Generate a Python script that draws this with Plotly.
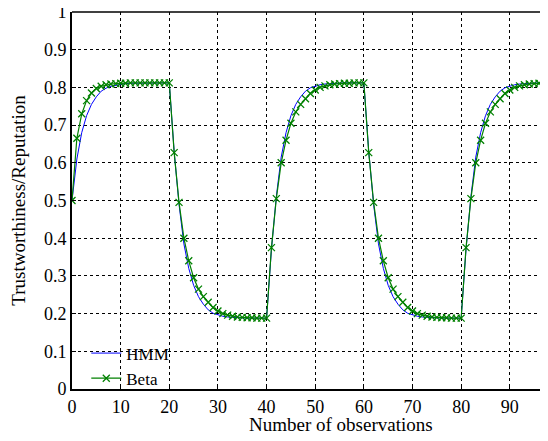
import plotly.graph_objects as go

# observation index
obs = list(range(0, 99))

# Beta reputation values
beta_start = [0.5, 0.665, 0.73, 0.765, 0.785, 0.797, 0.803, 0.807, 0.809, 0.810,
              0.811, 0.811, 0.812, 0.812, 0.812, 0.812, 0.812, 0.812, 0.812, 0.812, 0.812]
beta_down = [0.627, 0.495, 0.40, 0.34, 0.295, 0.265, 0.245, 0.23, 0.216, 0.207,
             0.200, 0.196, 0.193, 0.191, 0.190, 0.189, 0.189, 0.188, 0.188, 0.188]
beta_up = [0.375, 0.505, 0.60, 0.66, 0.705, 0.735, 0.755, 0.77, 0.784, 0.793,
           0.800, 0.804, 0.807, 0.809, 0.810, 0.811, 0.811, 0.812, 0.812, 0.812]

# HMM trust values
hmm_start = [0.5, 0.61, 0.68, 0.725, 0.755, 0.775, 0.79, 0.798, 0.803, 0.806,
             0.808, 0.810, 0.811, 0.811, 0.812, 0.812, 0.812, 0.812, 0.812, 0.812, 0.812]
hmm_down = [0.63, 0.49, 0.385, 0.32, 0.275, 0.245, 0.225, 0.21, 0.201, 0.196,
            0.193, 0.191, 0.190, 0.189, 0.188, 0.188, 0.188, 0.188, 0.188, 0.188]
hmm_up = [0.37, 0.51, 0.615, 0.68, 0.725, 0.755, 0.775, 0.79, 0.799, 0.804,
          0.807, 0.809, 0.810, 0.811, 0.812, 0.812, 0.812, 0.812, 0.812, 0.812]

beta = beta_start + beta_down + beta_up + beta_down + beta_up[:18]
hmm = hmm_start + hmm_down + hmm_up + hmm_down + hmm_up[:18]

x_ticks = [0, 10, 20, 30, 40, 50, 60, 70, 80, 90]
y_ticks = [0, 0.1, 0.2, 0.3, 0.4, 0.5, 0.6, 0.7, 0.8, 0.9, 1]
y_labels = ["0", "0.1", "0.2", "0.3", "0.4", "0.5", "0.6", "0.7", "0.8", "0.9", "1"]

SERIF = "Liberation Serif"

fig = go.Figure()
fig.add_trace(go.Scatter(
    x=obs, y=hmm, mode='lines', name='HMM',
    line=dict(color='#0000FF', width=1),
))
fig.add_trace(go.Scatter(
    x=obs, y=beta, mode='lines+markers', name='Beta',
    line=dict(color='#008000', width=1.2),
    marker=dict(symbol='x-thin', size=7, line=dict(color='#008000', width=1.3)),
))

fig.update_layout(
    width=548, height=441,
    paper_bgcolor='white', plot_bgcolor='white',
    margin=dict(l=64, r=8, t=4, b=60),
    font=dict(family=SERIF, size=18, color='black'),
    showlegend=True,
    legend=dict(
        x=0.03, y=-0.02, xanchor='left', yanchor='bottom',
        bgcolor='rgba(255,255,255,0)', borderwidth=0,
        font=dict(family=SERIF, size=17, color='black'),
        tracegroupgap=0, itemwidth=30,
    ),
)
fig.update_xaxes(
    range=[0, 97.85], tickvals=x_ticks,
    tickfont=dict(family=SERIF, size=18, color='black'),
    showgrid=True, gridcolor='black', griddash='dot', gridwidth=1,
    zeroline=False, showline=True, linecolor='black', linewidth=2,
    ticks='inside', ticklen=4, tickcolor='black', automargin=False,
)
fig.update_yaxes(
    range=[0, 1], tickvals=y_ticks, ticktext=y_labels,
    tickfont=dict(family=SERIF, size=18, color='black'),
    showgrid=True, gridcolor='black', griddash='dot', gridwidth=1,
    zeroline=False, showline=True, linecolor='black', linewidth=2,
    ticks='inside', ticklen=4, tickcolor='black', automargin=False,
    ticklabeloverflow='allow',
    title_text='Trustworthiness/Reputation',
    title_font=dict(family=SERIF, size=19, color='black'),
    title_standoff=14,
)
# x title: the original axis ran past the cropped right edge, so its title sits right of centre
fig.add_annotation(
    text='Number of observations', xref='paper', yref='paper',
    x=0.565, y=-0.095, xanchor='center', yanchor='middle', showarrow=False,
    font=dict(family=SERIF, size=19, color='black'),
)
fig.add_shape(type='line', xref='paper', yref='paper', x0=0, x1=1, y0=1, y1=1,
              line=dict(color='black', width=1.5))

fig.write_html("out.html")
